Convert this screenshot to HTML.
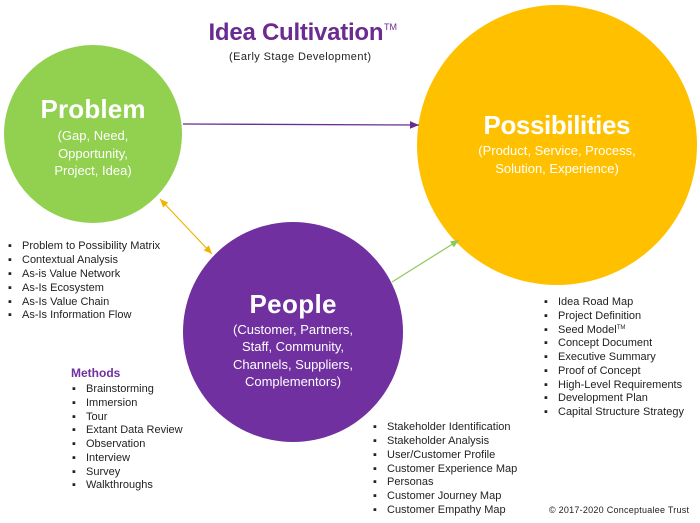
<!DOCTYPE html>
<html><head><meta charset="utf-8"><style>
html,body{margin:0;padding:0;background:#fff;}
svg{display:block;font-family:"Liberation Sans",sans-serif;}
.l{font-size:11px;fill:#222;}
</style></head><body>
<svg width="700" height="523" viewBox="0 0 700 523" xmlns="http://www.w3.org/2000/svg">
<defs>
<marker id="ap" markerWidth="8" markerHeight="8" refX="7" refY="4" orient="auto"><path d="M0,1 L7,4 L0,7z" fill="#6a2c91"/></marker>
<marker id="ay" markerWidth="8" markerHeight="8" refX="7" refY="4" orient="auto"><path d="M0,1 L7,4 L0,7z" fill="#f0b400"/></marker>
<marker id="ays" markerWidth="8" markerHeight="8" refX="1" refY="4" orient="auto"><path d="M8,1 L1,4 L8,7z" fill="#f0b400"/></marker>
<marker id="ag" markerWidth="8" markerHeight="8" refX="7" refY="4" orient="auto"><path d="M0,1 L7,4 L0,7z" fill="#8dc95a"/></marker>
</defs>
<circle cx="93" cy="134" r="89" fill="#92d050"/>
<circle cx="557" cy="145" r="140" fill="#ffc000"/>
<circle cx="293" cy="332" r="110" fill="#7030a0"/>
<line x1="183" y1="124" x2="419" y2="125" stroke="#6a2c91" stroke-width="1.3" marker-end="url(#ap)"/>
<line x1="160" y1="199" x2="212" y2="254" stroke="#f0b400" stroke-width="1.2" marker-start="url(#ays)" marker-end="url(#ay)"/>
<line x1="392" y1="282" x2="459" y2="240" stroke="#8dc95a" stroke-width="1.2" marker-end="url(#ag)"/>
<text x="296" y="40" text-anchor="middle" font-size="24" font-weight="bold" fill="#6a2c91" textLength="175">Idea Cultivation</text>
<text x="384" y="30" font-size="9" fill="#6a2c91">TM</text>
<text x="300" y="60" text-anchor="middle" font-size="11" fill="#222" textLength="142">(Early Stage Development)</text>
<g fill="#fff" text-anchor="middle">
<text x="93" y="118" font-size="26" font-weight="bold" textLength="105">Problem</text>
<text x="93" y="140" font-size="13">(Gap, Need,</text>
<text x="93" y="158" font-size="13">Opportunity,</text>
<text x="93" y="175" font-size="13">Project,  Idea)</text>
<text x="557" y="134" font-size="26" font-weight="bold" textLength="147">Possibilities</text>
<text x="557" y="155" font-size="13">(Product, Service, Process,</text>
<text x="557" y="173" font-size="13">Solution, Experience)</text>
<text x="293" y="313" font-size="26" font-weight="bold" textLength="87">People</text>
<text x="293" y="334" font-size="13">(Customer, Partners,</text>
<text x="293" y="351" font-size="13">Staff, Community,</text>
<text x="293" y="369" font-size="13">Channels, Suppliers,</text>
<text x="293" y="386" font-size="13">Complementors)</text>
</g>
<g class="l">
<text x="8" y="249">▪ <tspan x="22">Problem to Possibility Matrix</tspan></text>
<text x="8" y="263">▪ <tspan x="22">Contextual Analysis</tspan></text>
<text x="8" y="277">▪ <tspan x="22">As-is Value Network</tspan></text>
<text x="8" y="291">▪ <tspan x="22">As-Is Ecosystem</tspan></text>
<text x="8" y="305">▪ <tspan x="22">As-Is Value Chain</tspan></text>
<text x="8" y="318">▪ <tspan x="22">As-Is Information Flow</tspan></text>
</g>
<text x="71" y="377" font-size="12" font-weight="bold" fill="#7030a0">Methods</text>
<g class="l">
<text x="72" y="392">▪ <tspan x="86">Brainstorming</tspan></text>
<text x="72" y="406">▪ <tspan x="86">Immersion</tspan></text>
<text x="72" y="420">▪ <tspan x="86">Tour</tspan></text>
<text x="72" y="433">▪ <tspan x="86">Extant Data Review</tspan></text>
<text x="72" y="447">▪ <tspan x="86">Observation</tspan></text>
<text x="72" y="461">▪ <tspan x="86">Interview</tspan></text>
<text x="72" y="475">▪ <tspan x="86">Survey</tspan></text>
<text x="72" y="488">▪ <tspan x="86">Walkthroughs</tspan></text>
</g>
<g class="l">
<text x="373" y="430">▪ <tspan x="387">Stakeholder Identification</tspan></text>
<text x="373" y="444">▪ <tspan x="387">Stakeholder Analysis</tspan></text>
<text x="373" y="458">▪ <tspan x="387">User/Customer Profile</tspan></text>
<text x="373" y="472">▪ <tspan x="387">Customer Experience Map</tspan></text>
<text x="373" y="485">▪ <tspan x="387">Personas</tspan></text>
<text x="373" y="499">▪ <tspan x="387">Customer Journey Map</tspan></text>
<text x="373" y="513">▪ <tspan x="387">Customer Empathy Map</tspan></text>
</g>
<g class="l">
<text x="544" y="305">▪ <tspan x="558">Idea Road Map</tspan></text>
<text x="544" y="319">▪ <tspan x="558">Project Definition</tspan></text>
<text x="544" y="333">▪ <tspan x="558">Seed Model</tspan><tspan font-size="6" dy="-4">TM</tspan></text>
<text x="544" y="346">▪ <tspan x="558">Concept Document</tspan></text>
<text x="544" y="360">▪ <tspan x="558">Executive Summary</tspan></text>
<text x="544" y="374">▪ <tspan x="558">Proof of Concept</tspan></text>
<text x="544" y="388">▪ <tspan x="558">High-Level Requirements</tspan></text>
<text x="544" y="401">▪ <tspan x="558">Development Plan</tspan></text>
<text x="544" y="415">▪ <tspan x="558">Capital Structure Strategy</tspan></text>
</g>
<text x="549" y="513" font-size="9" fill="#222" textLength="140">© 2017-2020 Conceptualee Trust</text>
</svg>
</body></html>
